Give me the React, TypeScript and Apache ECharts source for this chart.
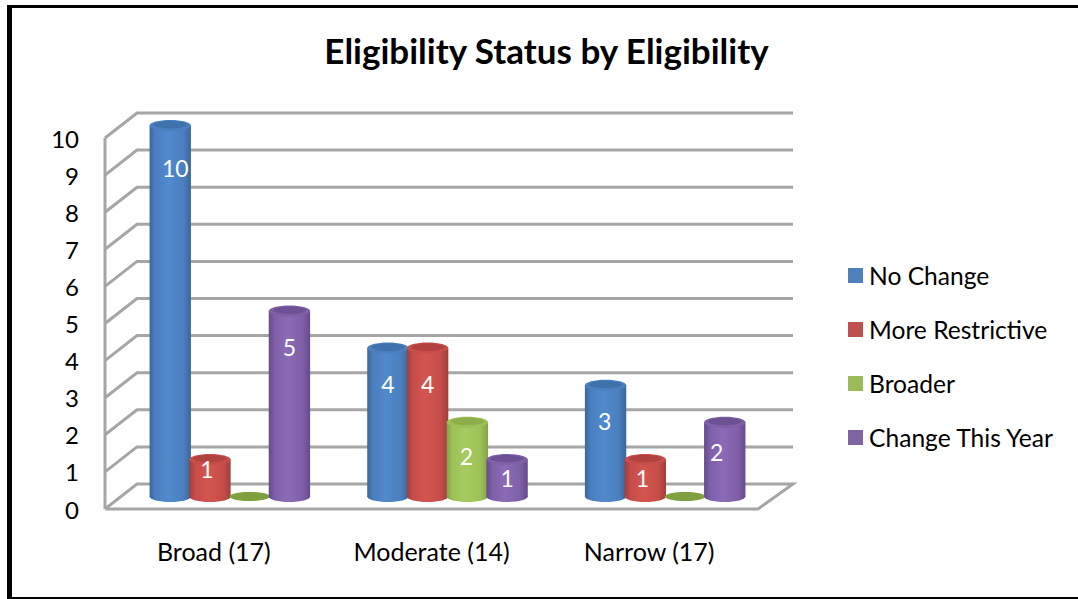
import React, { useEffect, useRef } from "react";
import * as echarts from "echarts";

const categories = ["Broad (17)", "Moderate (14)", "Narrow (17)"];
const seriesNames = ["No Change", "More Restrictive", "Broader", "Change This Year"];
const noChange = [10, 4, 3];
const moreRestrictive = [1, 4, 1];
const broader = [0, 2, 0];
const changeThisYear = [5, 1, 2];
const yTicks = [0, 1, 2, 3, 4, 5, 6, 7, 8, 9, 10];

const FONT = "Lato";
const DEPTH_X = 32;
const DEPTH_Y = 25;
const RIGHT_EXTRA = 3;
const BAR_STEP = 0.1825; // of the band
const BAR_W = 0.19; // of the band
const RY = 5.5;
const GRID = "#a6a6a6";

const palettes = [
  { base: "#4F81BD", edge: "#3a6798", mid: "#4a7fbf", light: "#5089cd", top: "#3f72ad", rim: "#4a80bf" },
  { base: "#C0504D", edge: "#a03e3b", mid: "#c54c48", light: "#d4554f", top: "#b2423f", rim: "#c84e4a" },
  { base: "#9BBB59", edge: "#83a348", mid: "#9cc257", light: "#a6cb5e", top: "#8cae4b", rim: "#9cc056" },
  { base: "#8064A2", edge: "#654a8b", mid: "#7f5fa8", light: "#8b6bb6", top: "#6c5195", rim: "#7f60a6" },
];

// per-label nudges [dx, dy] relative to the default inside position
const labelNudge: Record<string, [number, number]> = {
  "0-0": [5, 6],
  "1-0": [-3, -9],
  "1-2": [-3, 0],
  "3-2": [-8, -6],
  "0-2": [-1, 0],
  "2-1": [-1, -2],
};

function cylinder(seriesIndex: number) {
  const p = palettes[seriesIndex];
  return (params: any, api: any) => {
    const cat = api.value(0);
    const val = api.value(1);
    const band = api.size([1, 0])[0];
    const w = band * BAR_W;
    const base = api.coord([cat, 0]);
    const top = api.coord([cat, val]);
    const cx = base[0] + DEPTH_X / 2 + (seriesIndex - 1.5) * band * BAR_STEP;
    const yB = base[1] - DEPTH_Y / 2;
    const yT = top[1] - DEPTH_Y / 2;
    if (val === 0) {
      return {
        type: "ellipse",
        shape: { cx, cy: yB, rx: w / 2 - 0.5, ry: RY - 1 },
        style: { fill: "#7fa03f" },
      };
    }
    const grad = new echarts.graphic.LinearGradient(0, 0, 1, 0, [
      { offset: 0, color: p.edge },
      { offset: 0.14, color: p.mid },
      { offset: 0.45, color: p.light },
      { offset: 0.82, color: p.mid },
      { offset: 1, color: p.edge },
    ]);
    const nudge = labelNudge[`${seriesIndex}-${cat}`] || [0, 0];
    const h = yB - yT;
    return {
      type: "group",
      children: [
        { type: "ellipse", shape: { cx, cy: yB, rx: w / 2, ry: RY }, style: { fill: grad } },
        { type: "rect", shape: { x: cx - w / 2, y: yT, width: w, height: h }, style: { fill: grad } },
        { type: "ellipse", shape: { cx, cy: yT, rx: w / 2, ry: RY }, style: { fill: p.rim } },
        { type: "ellipse", shape: { cx, cy: yT - 0.8, rx: w / 2 - 4, ry: RY - 1.8 }, style: { fill: p.top } },
        {
          type: "text",
          style: {
            text: String(val),
            x: cx + nudge[0],
            y: yT + Math.min(h / 2, 36) + nudge[1],
            fill: "#ffffff",
            font: `23px ${FONT}`,
            align: "center",
            verticalAlign: "middle",
          },
        },
      ],
    };
  };
}

function walls(params: any, api: any) {
  const v = api.value(1);
  const cs = params.coordSys;
  const left = cs.x;
  const right = cs.x + cs.width;
  const y = api.coord([0, v])[1];
  const line = { stroke: GRID, lineWidth: 3, fill: "none" };
  const pts: number[][] =
    v === 0
      ? [
          [left, y],
          [left + DEPTH_X, y - DEPTH_Y],
          [right + DEPTH_X + RIGHT_EXTRA, y - DEPTH_Y],
          [right, y],
          [left, y],
        ]
      : [
          [left, y],
          [left + DEPTH_X, y - DEPTH_Y],
          [right + DEPTH_X + RIGHT_EXTRA, y - DEPTH_Y],
        ];
  const children: any[] = [{ type: "polyline", shape: { points: pts }, style: line }];
  if (v === 10) {
    children.push({
      type: "line",
      shape: { x1: left, y1: y, x2: left, y2: api.coord([0, 0])[1] },
      style: line,
    });
  }
  return { type: "group", children };
}

export default function App() {
  const ref = useRef<HTMLDivElement>(null);
  useEffect(() => {
    const chart = echarts.init(ref.current!, undefined, { renderer: "svg" });
    const valueSets = [noChange, moreRestrictive, broader, changeThisYear];
    chart.setOption({
      animation: false,
      backgroundColor: "#ffffff",
      title: {
        text: "Eligibility Status by Eligibility",
        left: 541.5,
        top: 27,
        textAlign: "center",
        textStyle: { fontFamily: FONT, fontSize: 35, fontWeight: "bold", color: "#000000" },
      },
      grid: { left: 105, top: 138, width: 653, height: 371 },
      xAxis: {
        type: "category",
        data: categories,
        axisLine: { show: false },
        axisTick: { show: false },
        axisLabel: { fontFamily: FONT, fontSize: 25, color: "#000000", margin: 29 },
      },
      yAxis: {
        type: "value",
        min: 0,
        max: 10,
        interval: 1,
        axisLine: { show: false },
        axisTick: { show: false },
        splitLine: { show: false },
        axisLabel: { fontFamily: FONT, fontSize: 24, color: "#000000", margin: 26 },
      },
      legend: {
        orient: "vertical",
        left: 848,
        top: 263,
        padding: 0,
        itemWidth: 15,
        itemHeight: 15,
        itemGap: 29,
        icon: "rect",
        data: seriesNames,
        textStyle: { fontFamily: FONT, fontSize: 24.6, color: "#000000", padding: [0, 0, 0, 1] },
      },
      graphic: [
        { type: "rect", shape: { x: 7, y: 5, width: 5, height: 594 }, style: { fill: "#000" } },
        { type: "rect", shape: { x: 7, y: 5, width: 1071, height: 3 }, style: { fill: "#000" } },
        { type: "rect", shape: { x: 7, y: 597, width: 1071, height: 2 }, style: { fill: "#000" } },
      ],
      series: [
        {
          type: "custom",
          name: "walls",
          silent: true,
          renderItem: walls,
          encode: { x: 0, y: 1 },
          data: yTicks.map((t) => [0, t]),
        },
        ...seriesNames.map((name, i) => ({
          type: "custom",
          name,
          renderItem: cylinder(i),
          encode: { x: 0, y: 1 },
          itemStyle: { color: palettes[i].base },
          data: valueSets[i].map((v, c) => [c, v]),
        })),
      ],
    });
    return () => chart.dispose();
  }, []);
  return <div ref={ref} style={{ position: "fixed", left: 0, top: 0, width: 1078, height: 599 }} />;
}
